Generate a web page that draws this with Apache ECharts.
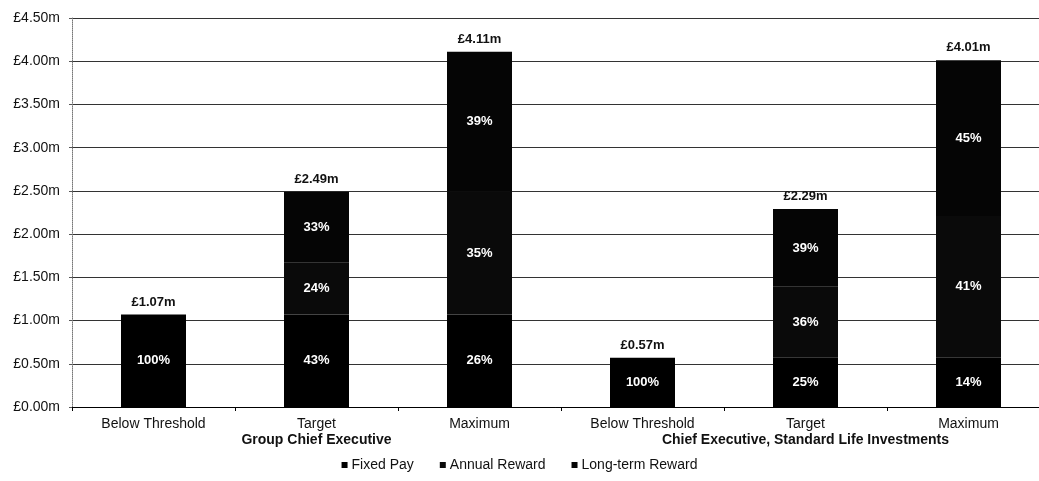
<!DOCTYPE html>
<html lang="en">
<head>
    <meta charset="UTF-8">
    <title>Remuneration scenarios</title>
    <script src="https://cdn.jsdelivr.net/npm/echarts@6/dist/echarts.min.js"></script>
    <style>
        html, body { margin: 0; padding: 0; background: #fff; }
        #main { width: 1039px; height: 481px; }
    </style>
</head>
<body>
<div id="main"></div>
<script>
    // categories
    var scenarios = ['Below Threshold', 'Target', 'Maximum', 'Below Threshold', 'Target', 'Maximum'];
    var roles = ['Group Chief Executive', 'Chief Executive, Standard Life Investments'];

    // values in £m
    var fixedPay = [1.07, 1.07, 1.07, 0.57, 0.57, 0.57];
    var annualReward = [0, 0.60, 1.42, 0, 0.82, 1.64];
    var longTermReward = [0, 0.82, 1.62, 0, 0.90, 1.80];
    var totals = [1.07, 2.49, 4.11, 0.57, 2.29, 4.01];

    // percentage labels
    var fixedPct = [100, 43, 26, 100, 25, 14];
    var annualPct = [null, 24, 35, null, 36, 41];
    var longTermPct = [null, 33, 39, null, 39, 45];

    var fontName = '"Liberation Sans", Arial, sans-serif';

    function pctLabel(arr) {
        return {
            show: true,
            position: 'inside',
            color: '#fff',
            fontSize: 13,
            fontWeight: 'bold',
            fontFamily: fontName,
            formatter: function (p) {
                var v = arr[p.dataIndex];
                return v == null ? '' : v + '%';
            }
        };
    }

    var dom = document.getElementById('main');
    var myChart = echarts.init(dom);
    var option = {
        animation: false,
        backgroundColor: '#fff',
        textStyle: { fontFamily: fontName },
        grid: { left: 72, top: 18, bottom: 74, width: 978, outerBoundsMode: 'none' },
        legend: {
            data: ['Fixed Pay', 'Annual Reward', 'Long-term Reward'],
            top: 453,
            left: 'center',
            icon: 'rect',
            itemWidth: 6,
            itemHeight: 6,
            itemGap: 26,
            textStyle: { fontSize: 14, color: '#111', fontFamily: fontName, padding: [0, 0, 0, -1] }
        },
        xAxis: [
            {
                type: 'category',
                data: scenarios,
                axisLine: { lineStyle: { color: '#000', width: 1 } },
                axisTick: { show: true, length: 4, lineStyle: { color: '#000' } },
                axisLabel: { color: '#111', fontSize: 14, margin: 10, fontFamily: fontName }
            },
            {
                type: 'category',
                data: roles,
                position: 'bottom',
                offset: 16,
                axisLine: { show: false },
                axisTick: { show: false },
                axisLabel: { color: '#111', fontSize: 14, fontWeight: 'bold', margin: 10, fontFamily: fontName }
            }
        ],
        yAxis: {
            type: 'value',
            min: 0,
            max: 4.5,
            interval: 0.5,
            axisLine: { show: true, lineStyle: { color: '#777', type: 'dotted' } },
            axisTick: { show: true, length: 3, lineStyle: { color: '#555' } },
            axisLabel: {
                color: '#111',
                fontSize: 14,
                margin: 12,
                fontFamily: fontName,
                formatter: function (v) { return '£' + v.toFixed(2) + 'm'; }
            },
            splitLine: { lineStyle: { color: '#333', width: 1 } }
        },
        series: [
            {
                name: 'Fixed Pay',
                type: 'bar',
                stack: 'pay',
                barWidth: 65,
                data: fixedPay,
                itemStyle: { color: '#000' },
                label: pctLabel(fixedPct)
            },
            {
                name: 'Annual Reward',
                type: 'bar',
                stack: 'pay',
                data: annualReward,
                itemStyle: { color: '#0a0a0a' },
                label: pctLabel(annualPct)
            },
            {
                name: 'Long-term Reward',
                type: 'bar',
                stack: 'pay',
                data: longTermReward,
                itemStyle: { color: '#050505' },
                label: pctLabel(longTermPct)
            },
            {
                name: 'Total',
                type: 'bar',
                stack: 'pay',
                data: [0, 0, 0, 0, 0, 0],
                itemStyle: { color: 'transparent' },
                label: {
                    show: true,
                    position: 'top',
                    distance: 6,
                    color: '#111',
                    fontSize: 13,
                    fontWeight: 'bold',
                    fontFamily: fontName,
                    formatter: function (p) { return '£' + totals[p.dataIndex].toFixed(2) + 'm'; }
                }
            }
        ]
    };
    myChart.setOption(option, true);
</script>
</body>
</html>
